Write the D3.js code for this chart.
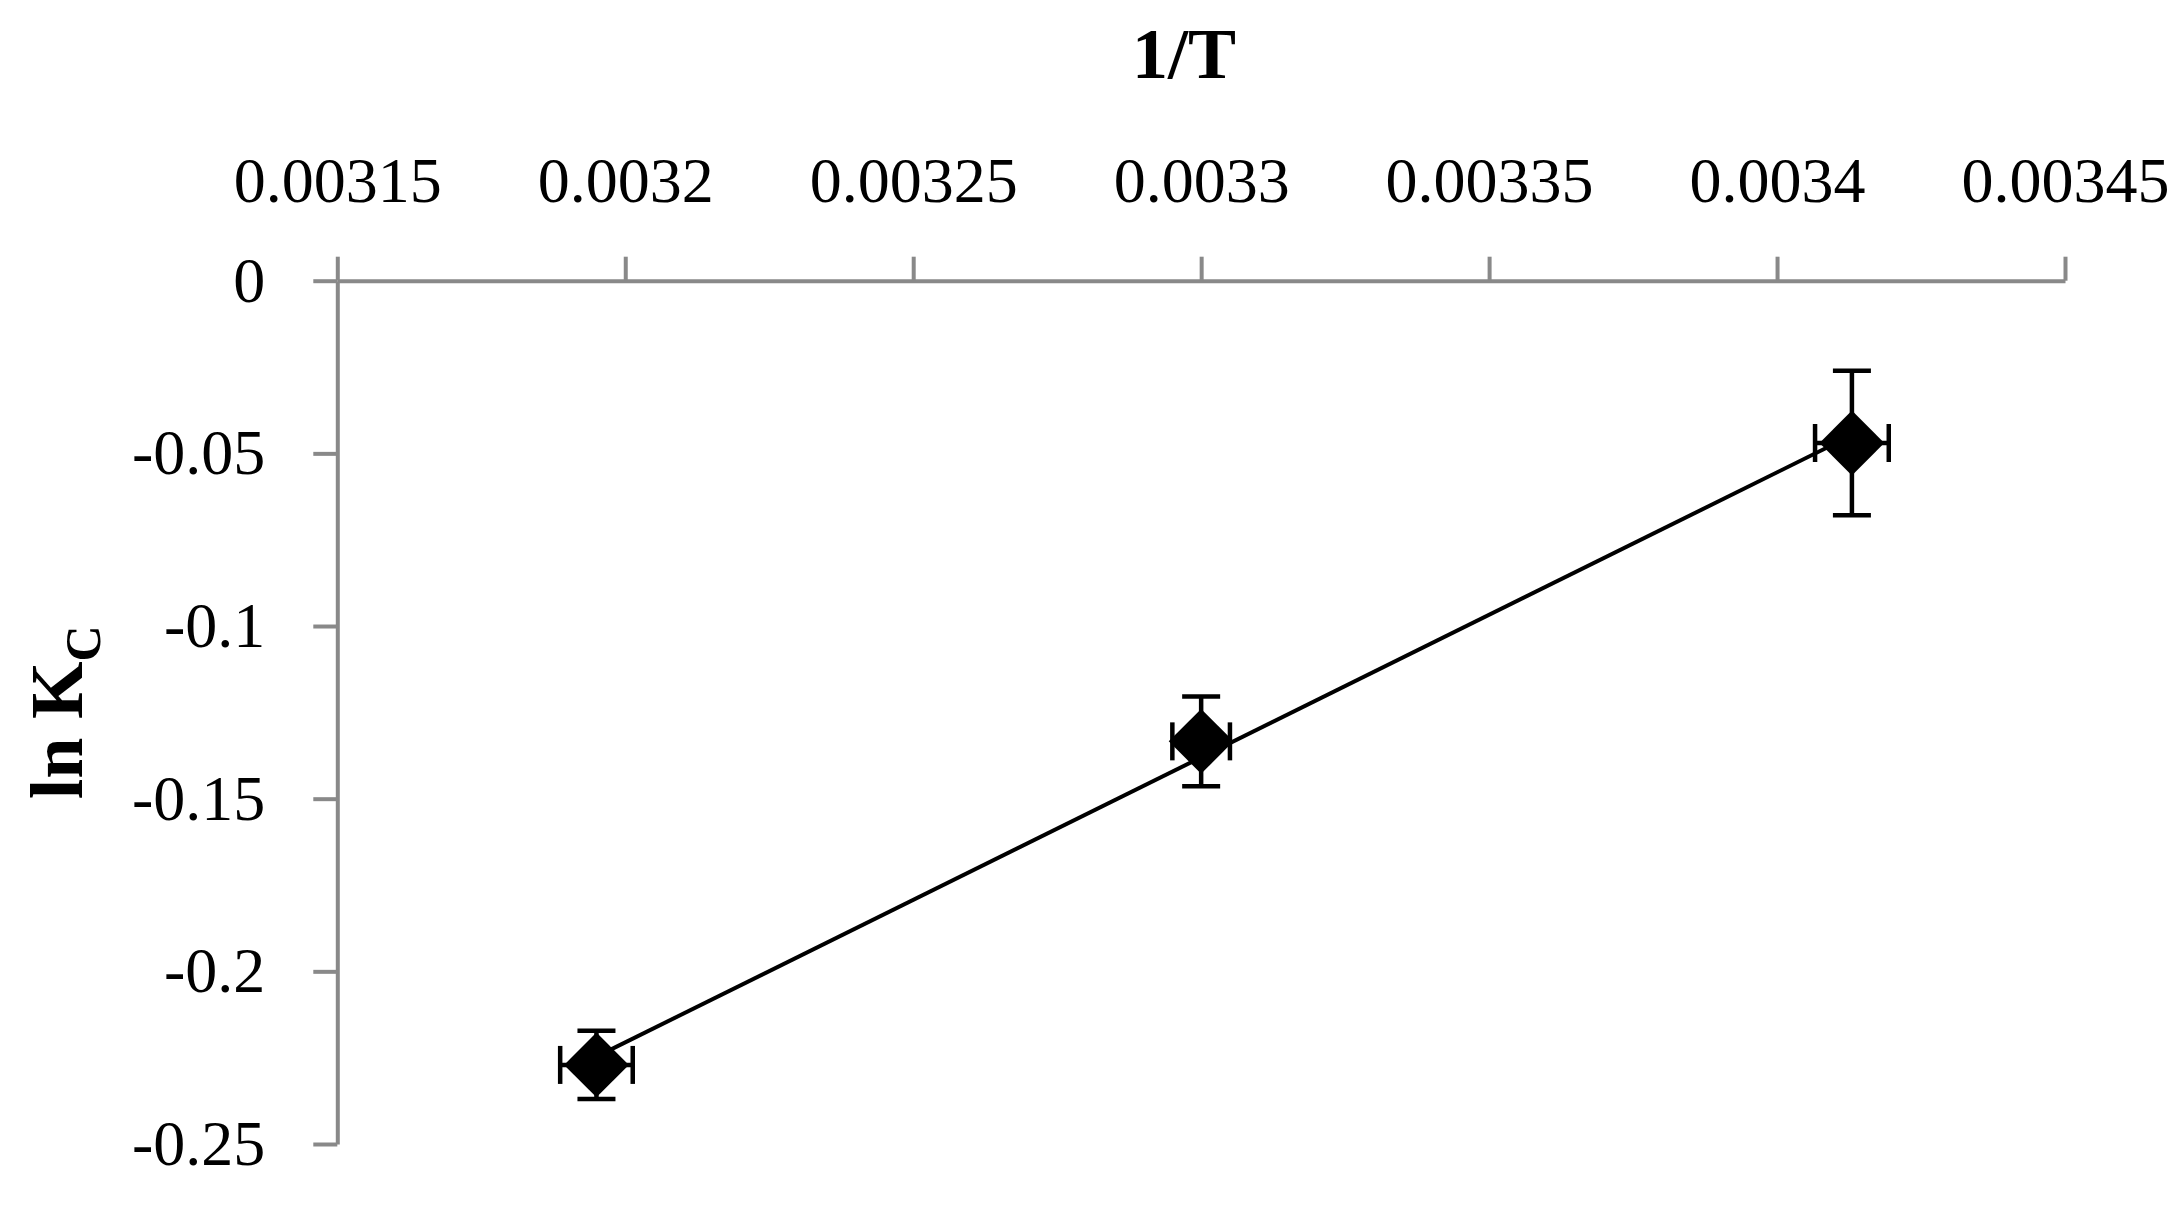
<!DOCTYPE html>
<html>
<head>
<meta charset="utf-8">
<script src="https://cdn.jsdelivr.net/npm/d3@7"></script>
<style>
  body { margin: 0; background: #fff; }
  svg { display: block; }
  text { font-family: "Liberation Serif", "Times New Roman", serif; }
</style>
</head>
<body>
<div id="container"></div>
<script>
// 1/T values (T = 313, 303, 293 K) and ln Kc
const invT = [0.003195, 0.0033, 0.003413];
const lnKc = [-0.2271, -0.1334, -0.047];
const errX = [0.0000063, 0.000005, 0.0000064];
const errY = [0.0099, 0.013, 0.0209];

const xTicks = [0.00315, 0.0032, 0.00325, 0.0033, 0.00335, 0.0034, 0.00345];
const xTickLabels = ["0.00315", "0.0032", "0.00325", "0.0033", "0.00335", "0.0034", "0.00345"];
const yTicks = [0, -0.05, -0.1, -0.15, -0.2, -0.25];
const yTickLabels = ["0", "-0.05", "-0.1", "-0.15", "-0.2", "-0.25"];

const w = 2184;
const h = 1209;
const plotL = 337.3, plotR = 2065, plotT = 280.7, plotB = 1144;

const points = invT.map((x, i) => ({ x: x, y: lnKc[i], ex: errX[i], ey: errY[i] }));

const xScale = d3.scaleLinear().domain([0.00315, 0.00345]).range([plotL, plotR]);
const yScale = d3.scaleLinear().domain([0, -0.25]).range([plotT, plotB]);

const svg = d3.select("#container").append("svg")
  .attr("width", w)
  .attr("height", h);

// axes
const xAxis = d3.axisTop(xScale)
  .tickValues(xTicks)
  .tickFormat((d, i) => xTickLabels[i])
  .tickSize(24)
  .tickSizeOuter(0)
  .tickPadding(55);

const yAxis = d3.axisLeft(yScale)
  .tickValues(yTicks)
  .tickFormat((d, i) => yTickLabels[i])
  .tickSize(24)
  .tickSizeOuter(0)
  .tickPadding(48);

const gx = svg.append("g").attr("transform", `translate(0, ${plotT})`).call(xAxis);
const gy = svg.append("g").attr("transform", `translate(${plotL}, 0)`).call(yAxis);

[gx, gy].forEach(g => {
  g.select(".domain").attr("stroke", "#898989").attr("stroke-width", 4);
  g.selectAll(".tick line").attr("stroke", "#898989").attr("stroke-width", 4);
  g.selectAll(".tick text")
    .attr("fill", "#000")
    .style("font-size", "64px")
    .style("font-family", "'Liberation Serif', serif");
});
gx.selectAll(".tick text").attr("dy", "0em");

// error bars
const eb = svg.append("g").attr("stroke", "#000").attr("stroke-width", 4.5).attr("fill", "none");
const cap = 19;
points.forEach(p => {
  const cx = xScale(p.x), cy = yScale(p.y);
  const y1 = yScale(p.y + p.ey), y2 = yScale(p.y - p.ey);
  const x1 = xScale(p.x - p.ex), x2 = xScale(p.x + p.ex);
  eb.append("line").attr("x1", cx).attr("x2", cx).attr("y1", y1).attr("y2", y2);
  eb.append("line").attr("x1", cx - cap).attr("x2", cx + cap).attr("y1", y1).attr("y2", y1);
  eb.append("line").attr("x1", cx - cap).attr("x2", cx + cap).attr("y1", y2).attr("y2", y2);
  eb.append("line").attr("x1", x1).attr("x2", x2).attr("y1", cy).attr("y2", cy);
  eb.append("line").attr("x1", x1).attr("x2", x1).attr("y1", cy - cap).attr("y2", cy + cap);
  eb.append("line").attr("x1", x2).attr("x2", x2).attr("y1", cy - cap).attr("y2", cy + cap);
});

// linear trendline (least squares)
const mx = d3.mean(invT), my = d3.mean(lnKc);
const slope = d3.sum(invT, (x, i) => (x - mx) * (lnKc[i] - my)) / d3.sum(invT, x => (x - mx) * (x - mx));
const icpt = my - slope * mx;
const xr = d3.extent(invT);
svg.append("path")
  .datum(xr.map(x => [x, icpt + slope * x]))
  .attr("fill", "none")
  .attr("stroke", "#000")
  .attr("stroke-width", 4)
  .attr("d", d3.line().x(d => xScale(d[0])).y(d => yScale(d[1])));

// diamond markers
svg.selectAll(".marker")
  .data(points)
  .enter()
  .append("path")
  .attr("class", "marker")
  .attr("d", d3.symbol(d3.symbolSquare, 2100))
  .attr("transform", d => `translate(${xScale(d.x)}, ${yScale(d.y)}) rotate(45)`)
  .attr("fill", "#000");

// titles
svg.append("text")
  .attr("x", 1184)
  .attr("y", 78)
  .attr("text-anchor", "middle")
  .style("font-size", "72px")
  .style("font-weight", "bold")
  .text("1/T");

const yt = svg.append("text")
  .attr("transform", `translate(82, ${(plotT + plotB) / 2}) rotate(-90)`)
  .attr("text-anchor", "middle")
  .style("font-size", "74px")
  .style("font-weight", "bold");
yt.append("tspan").text("ln K");
yt.append("tspan").attr("dy", 18).style("font-size", "50px").text("C");
</script>
</body>
</html>
